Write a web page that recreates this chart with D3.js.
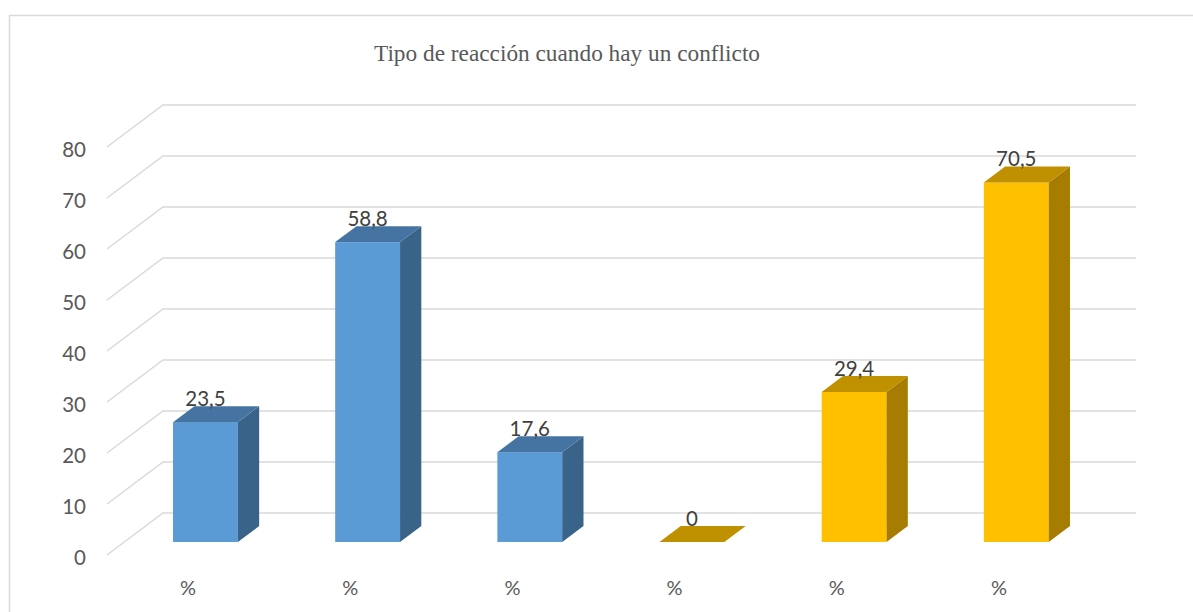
<!DOCTYPE html>
<html>
<head>
<meta charset="utf-8">
<script src="https://cdn.jsdelivr.net/npm/d3@7"></script>
<style>
  body { margin: 0; background: #fff; }
  svg { display: block; }
</style>
</head>
<body>
<div class="viewbox"></div>
<script>
// data
const categories = ["a", "b", "c", "d", "e", "f"];
const catLabels = ["%", "%", "%", "%", "%", "%"];
const values = [23.5, 58.8, 17.6, 0, 29.4, 70.5];
const series = ["s1", "s1", "s1", "s2", "s2", "s2"];
const valueLabels = ["23,5", "58,8", "17,6", "0", "29,4", "70,5"];
const yTicks = [0, 10, 20, 30, 40, 50, 60, 70, 80];
const title = "Tipo de reacción cuando hay un conflicto";

const W = 1193, H = 612;

// colours per series: front / top / side
const COLORS = {
  s1: { front: "#5B9BD5", top: "#4674A2", side: "#3A638A" },
  s2: { front: "#FFC000", top: "#BF9000", side: "#A67D00" }
};

const svg = d3.select(".viewbox").append("svg")
  .attr("width", W).attr("height", H);

// chart border (runs off the right/bottom edge)
svg.append("rect")
  .attr("x", 9.5).attr("y", 15.5)
  .attr("width", W + 20).attr("height", H + 20)
  .attr("fill", "none").attr("stroke", "#d9d9d9").attr("stroke-width", 1.5);

svg.append("text")
  .attr("x", 567).attr("y", 61)
  .attr("text-anchor", "middle")
  .style("font-family", "'Liberation Serif', 'Times New Roman', serif")
  .style("font-size", "23.3px")
  .attr("fill", "#595959")
  .text(title);

// 3d floor: front edge y, depth vector
const floorFront = 555;
const depthX = 56, depthY = -42;
const frontLeft = 107, frontRight = 1080;

let y = d3.scaleLinear().domain([0, 80]).range([0, 408]);
let x = d3.scaleBand().domain(categories)
  .range([frontLeft, frontRight])
  .paddingInner(0.6).paddingOuter(0.3);

// gridlines: diagonal on left wall then along the back wall
const grid = svg.append("g");
yTicks.forEach(t => {
  let h = y(t);
  grid.append("polyline")
    .attr("points", [
      [frontLeft, floorFront - h],
      [frontLeft + depthX, floorFront + depthY - h],
      [frontRight + depthX, floorFront + depthY - h]
    ].map(p => p.join(",")).join(" "))
    .attr("fill", "none").attr("stroke", "#d9d9d9").attr("stroke-width", 1.5);
});

// tick labels
svg.append("g").selectAll("text")
  .data(yTicks).enter().append("text")
  .attr("x", 86)
  .attr("y", d => floorFront - y(d) + 2)
  .attr("text-anchor", "end")
  .attr("dominant-baseline", "central")
  .style("font-family", "Lato, 'Open Sans', sans-serif")
  .style("font-size", "20.5px")
  .attr("fill", "#595959")
  .text(d => d);

// bars sit in the middle of the floor depth
const f0 = 0.31, f1 = 0.69;
const offX = depthX * f0, offY = depthY * f0;
const dX = depthX * (f1 - f0), dY = depthY * (f1 - f0);
const bw = x.bandwidth();

const data = categories.map((c, i) => ({
  c: c, v: values[i], s: series[i], lab: valueLabels[i]
}));

let bars = svg.append("g").selectAll("g")
  .data(data).enter().append("g");

bars.each(function (d) {
  let g = d3.select(this);
  let x0 = x(d.c) + offX;
  let yb = floorFront + offY;
  let yt = yb - y(d.v);
  let col = COLORS[d.s];
  if (d.v > 0) {
    g.append("rect")
      .attr("x", x0).attr("y", yt)
      .attr("width", bw).attr("height", yb - yt)
      .attr("fill", col.front);
    g.append("polygon")
      .attr("points", [[x0 + bw, yb], [x0 + bw, yt], [x0 + bw + dX, yt + dY], [x0 + bw + dX, yb + dY]]
        .map(p => p.join(",")).join(" "))
      .attr("fill", col.side);
  }
  g.append("polygon")
    .attr("points", [[x0, yt], [x0 + bw, yt], [x0 + bw + dX, yt + dY], [x0 + dX, yt + dY]]
      .map(p => p.join(",")).join(" "))
    .attr("fill", col.top);

  g.append("text")
    .attr("x", x0 + bw / 2)
    .attr("y", yt + dY - 8)
    .attr("text-anchor", "middle")
    .attr("dominant-baseline", "central")
    .style("font-family", "Lato, 'Open Sans', sans-serif")
    .style("font-size", "20.5px")
    .attr("fill", "#404040")
    .text(d.lab);
});

// category labels along the front edge
svg.append("g").selectAll("text")
  .data(data).enter().append("text")
  .attr("x", d => x(d.c) + bw / 2)
  .attr("y", 587)
  .attr("text-anchor", "middle")
  .attr("dominant-baseline", "central")
  .style("font-family", "Lato, 'Open Sans', sans-serif")
  .style("font-size", "20px")
  .attr("fill", "#595959")
  .text((d, i) => catLabels[i]);
</script>
</body>
</html>
